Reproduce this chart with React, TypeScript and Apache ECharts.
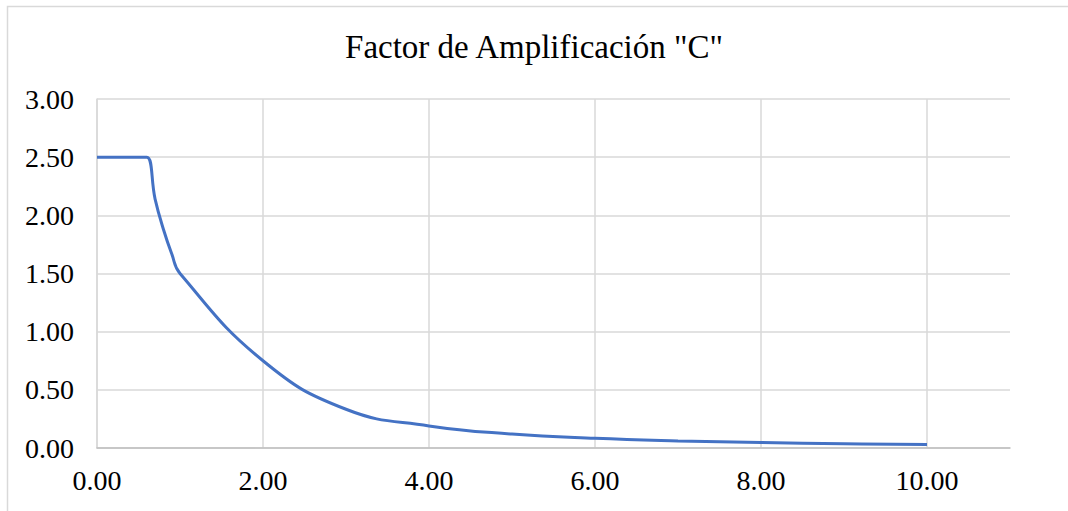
import React, { useEffect, useRef } from "react";
import * as echarts from "echarts";

const titleText = 'Factor de Amplificación "C"';
const periods = [0, 0.1, 0.2, 0.3, 0.4, 0.5, 0.6, 0.7, 0.8, 0.9, 1.0, 2.0, 3.0, 4.0, 5.0, 6.0, 7.0, 8.0, 9.0, 10.0];
const factorC = [2.5, 2.5, 2.5, 2.5, 2.5, 2.5, 2.5, 2.14, 1.88, 1.67, 1.5, 0.75, 0.333, 0.19, 0.12, 0.083, 0.061, 0.047, 0.037, 0.03];
const xMax = 11;
const xInterval = 2;
const yMax = 3;
const yInterval = 0.5;

const FONT = "'Liberation Serif', 'Times New Roman', serif";

export default function App() {
  const ref = useRef<HTMLDivElement>(null);
  useEffect(() => {
    if (!ref.current) return;
    const chart = echarts.init(ref.current, undefined, { renderer: "svg" });
    chart.setOption({
      animation: false,
      backgroundColor: "#ffffff",
      title: {
        text: titleText,
        left: "center",
        top: 25,
        textStyle: { fontFamily: FONT, fontSize: 33, fontWeight: "normal", color: "#000000" },
      },
      graphic: [
        {
          type: "rect",
          shape: { x: 7.5, y: 6.5, width: 1200, height: 700 },
          style: { fill: "none", stroke: "#d9d9d9", lineWidth: 1.5 },
          silent: true,
        },
      ],
      grid: { left: 97, right: 58, top: 99, bottom: 63, containLabel: false },
      xAxis: {
        type: "value",
        min: 0,
        max: xMax,
        interval: xInterval,
        axisLine: { show: true, lineStyle: { color: "#bfbfbf", width: 1.5 } },
        axisTick: { show: false },
        splitLine: { show: true, showMaxLine: false, lineStyle: { color: "#d9d9d9", width: 1.5 } },
        axisLabel: {
          showMaxLabel: false,
          margin: 18,
          fontFamily: FONT,
          fontSize: 28,
          color: "#000000",
          formatter: (v: number) => (v >= xMax ? "" : v.toFixed(2)),
        },
      },
      yAxis: {
        type: "value",
        min: 0,
        max: yMax,
        interval: yInterval,
        axisLine: { show: true, lineStyle: { color: "#d9d9d9", width: 1.5 } },
        axisTick: { show: false },
        splitLine: { show: true, lineStyle: { color: "#d9d9d9", width: 1.5 } },
        axisLabel: {
          margin: 23,
          fontFamily: FONT,
          fontSize: 28,
          color: "#000000",
          formatter: (v: number) => v.toFixed(2),
        },
      },
      series: [
        {
          type: "line",
          data: periods.map((t, i) => [t, factorC[i]]),
          smooth: 0.45,
          showSymbol: false,
          lineStyle: { color: "#4472c4", width: 3 },
          itemStyle: { color: "#4472c4" },
        },
      ],
    });
    return () => chart.dispose();
  }, []);
  return (
    <div
      ref={ref}
      style={{ position: "absolute", left: 0, top: 0, width: 1068, height: 511 }}
    />
  );
}
